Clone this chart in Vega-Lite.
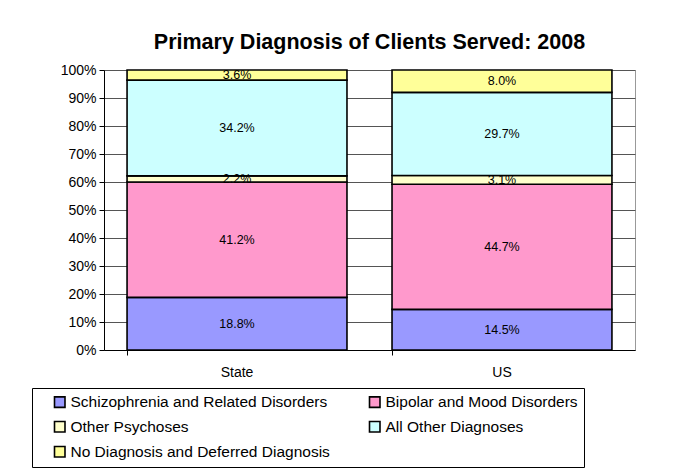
{
  "$schema": "https://vega.github.io/schema/vega-lite/v6.json",
  "width": 531,
  "height": 280,
  "autosize": {"type": "none"},
  "padding": {"left": 104, "top": 70, "right": 47, "bottom": 120},
  "title": {
    "text": "Primary Diagnosis of Clients Served: 2008",
    "font": "Liberation Sans",
    "fontSize": 21.5,
    "fontWeight": "bold",
    "color": "black",
    "anchor": "middle",
    "frame": "group",
    "offset": 10
  },
  "data": {
    "values": [
      {"region": "State", "diagnosis": "Schizophrenia and Related Disorders", "order": 1, "value": 0.188},
      {"region": "State", "diagnosis": "Bipolar and Mood Disorders", "order": 2, "value": 0.412},
      {"region": "State", "diagnosis": "Other Psychoses", "order": 3, "value": 0.022},
      {"region": "State", "diagnosis": "All Other Diagnoses", "order": 4, "value": 0.342},
      {"region": "State", "diagnosis": "No Diagnosis and Deferred Diagnosis", "order": 5, "value": 0.036},
      {"region": "US", "diagnosis": "Schizophrenia and Related Disorders", "order": 1, "value": 0.145},
      {"region": "US", "diagnosis": "Bipolar and Mood Disorders", "order": 2, "value": 0.447},
      {"region": "US", "diagnosis": "Other Psychoses", "order": 3, "value": 0.031},
      {"region": "US", "diagnosis": "All Other Diagnoses", "order": 4, "value": 0.297},
      {"region": "US", "diagnosis": "No Diagnosis and Deferred Diagnosis", "order": 5, "value": 0.080}
    ]
  },
  "transform": [
    {"stack": "value", "groupby": ["region"], "sort": [{"field": "order", "order": "ascending"}], "as": ["v0", "v1"]},
    {"calculate": "(datum.v0 + datum.v1) / 2", "as": "mid"}
  ],
  "encoding": {
    "x": {
      "field": "region",
      "type": "nominal",
      "sort": ["State", "US"],
      "scale": {"paddingInner": 0.17, "paddingOuter": 0.087},
      "axis": {
        "title": null,
        "labelAngle": 0,
        "labelFont": "Liberation Sans",
        "labelFontSize": 14,
        "labelColor": "black",
        "labelPadding": 10,
        "bandPosition": 0,
        "tickSize": 5,
        "tickColor": "black",
        "domainColor": "black",
        "grid": false
      }
    }
  },
  "layer": [
    {
      "mark": {"type": "bar", "stroke": "black", "strokeWidth": 1.6},
      "encoding": {
        "y": {
          "field": "v0",
          "type": "quantitative",
          "scale": {"domain": [0, 1], "nice": false},
          "axis": {
            "title": null,
            "format": ".0%",
            "values": [0, 0.1, 0.2, 0.3, 0.4, 0.5, 0.6, 0.7, 0.8, 0.9, 1],
            "labelFont": "Liberation Sans",
            "labelFontSize": 14,
            "labelColor": "black",
            "labelPadding": 3,
            "labelOverlap": false,
            "tickSize": 5,
            "tickColor": "black",
            "domainColor": "black",
            "gridColor": "#555555",
            "gridOpacity": 1
          }
        },
        "y2": {"field": "v1"},
        "color": {
          "field": "diagnosis",
          "type": "nominal",
          "scale": {
            "domain": ["Schizophrenia and Related Disorders", "Bipolar and Mood Disorders", "Other Psychoses", "All Other Diagnoses", "No Diagnosis and Deferred Diagnosis"],
            "range": ["#9999FF", "#FF99CC", "#FFFFCC", "#CCFFFF", "#FFFF99"]
          },
          "legend": {
            "orient": "none",
            "legendX": -72,
            "legendY": 318,
            "direction": "horizontal",
            "columns": 2,
            "gridAlign": "all",
            "title": null,
            "symbolType": "square",
            "symbolSize": 110,
            "symbolStrokeColor": "black",
            "symbolStrokeWidth": 1.6,
            "symbolOffset": 14,
            "labelOffset": 3,
            "labelFont": "Liberation Sans",
            "labelFontSize": 15.5,
            "labelColor": "black",
            "labelLimit": 400,
            "strokeColor": "black",
            "fillColor": "white",
            "padding": 6,
            "rowPadding": 7,
            "columnPadding": 23
          }
        }
      }
    },
    {
      "mark": {"type": "text", "font": "Liberation Sans", "fontSize": 12.5, "color": "black"},
      "encoding": {
        "y": {
          "field": "mid",
          "type": "quantitative",
          "axis": {
            "title": null,
            "format": ".0%",
            "values": [0, 0.1, 0.2, 0.3, 0.4, 0.5, 0.6, 0.7, 0.8, 0.9, 1],
            "labelFont": "Liberation Sans",
            "labelFontSize": 14,
            "labelColor": "black",
            "labelPadding": 3,
            "labelOverlap": false,
            "tickSize": 5,
            "tickColor": "black",
            "domainColor": "black",
            "gridColor": "#555555",
            "gridOpacity": 1
          }
        },
        "text": {"field": "value", "type": "quantitative", "format": ".1%"}
      }
    }
  ],
  "config": {
    "view": {"stroke": "#999999"}
  }
}
